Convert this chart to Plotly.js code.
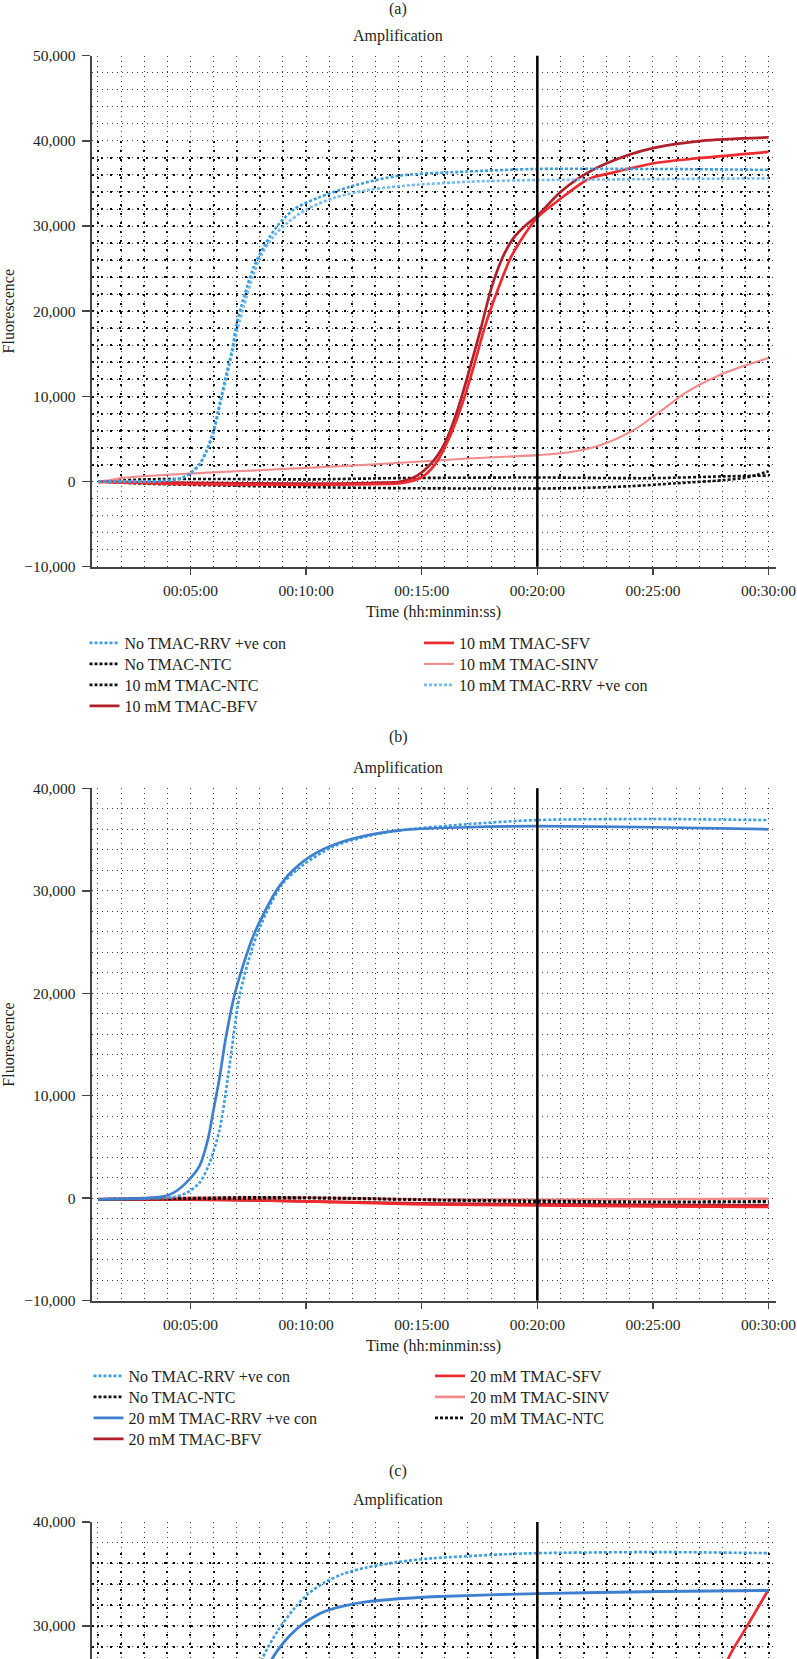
<!DOCTYPE html>
<html><head><meta charset="utf-8">
<script src="https://cdn.plot.ly/plotly-3.0.1.min.js"></script>
<style>
html,body{margin:0;padding:0;background:#fff;overflow:hidden}
#chart{width:797px;height:1659px}
</style></head>
<body><div id="chart"></div>
<script>
// ---------- shared axis labels ----------
const timeTickVals = [5, 10, 15, 20, 25, 30];
const timeTickText = ['00:05:00', '00:10:00', '00:15:00', '00:20:00', '00:25:00', '00:30:00'];
const markerTime = 20;
const panelLabels = ['(a)', '(b)', '(c)'];
const panelTitle = 'Amplification';
const xTitle = 'Time (hh:minmin:ss)';
const yTitle = 'Fluorescence';
const cTickVals = [30000, 40000];       // panel (c) labels visible above the crop
const cVisibleRange = [26800, 40000];  // panel (c) is cut off by the page bottom

// ---------- panel (a) : 10 mM TMAC ----------
const aNoRrvT = [1, 3, 4, 4.6, 5, 5.4, 5.7, 6, 6.2, 6.5, 6.8, 7.0, 7.2, 7.45, 7.75, 8.2, 8.75, 9.5, 10.5, 12, 14, 17, 20, 25, 30];
const aNoRrvF = [0, 0, 100, 400, 1000, 2100, 3700, 6000, 8400, 12000, 15500, 18600, 20600, 22900, 25300, 27700, 30000, 32000, 33300, 34700, 35900, 36400, 36700, 36700, 36600];
const a10RrvT = [1, 3, 4, 4.6, 5, 5.4, 5.7, 6, 6.2, 6.5, 6.8, 7.05, 7.3, 7.7, 8.05, 8.6, 9.2, 10.05, 11.2, 12.6, 14.1, 17, 20, 25, 30];
const a10RrvF = [0, 0, 100, 400, 900, 2000, 3500, 5700, 8000, 11500, 15000, 18000, 20500, 24100, 26500, 28800, 30400, 32000, 33300, 34200, 34700, 35200, 35400, 35500, 35600];
const aNoNtcT = [1, 3, 6, 10, 14, 20, 25, 28, 30];
const aNoNtcF = [0, 250, 300, 250, 400, 470, 400, 600, 700];
const a10NtcT = [1, 3, 6, 10, 14, 20, 22, 24, 26, 28, 29, 29.5, 30];
const a10NtcF = [0, -250, -450, -650, -780, -820, -750, -550, -200, 150, 450, 800, 1200];
const aBfvT = [1, 5, 10, 13, 14.1, 14.8, 15.5, 16.0, 16.5, 17.0, 17.55, 18.0, 18.4, 18.7, 19.0, 19.5, 20.0, 21.0, 22.2, 23.9, 25.1, 27.1, 30];
const aBfvF = [0, -150, -250, -150, 0, 700, 2400, 4500, 8000, 12500, 17900, 22600, 25700, 27400, 28700, 30100, 31200, 34000, 36300, 38300, 39200, 40000, 40400];
const aSfvT = [1, 5, 10, 13, 14.1, 15.0, 15.6, 16.25, 16.8, 17.3, 17.7, 18.3, 18.85, 19.3, 19.6, 20.0, 21.0, 22.2, 23.3, 25.1, 27.1, 30];
const aSfvF = [0, -300, -400, -300, -200, 500, 2100, 5500, 9500, 14000, 17900, 22600, 26300, 28400, 29600, 31000, 33200, 35500, 36300, 37400, 38000, 38700];
const aSinvT = [1, 2, 4, 7, 10, 14.1, 17, 20, 21.3, 22.75, 24.2, 25.6, 26.4, 27.8, 29.3, 30];
const aSinvF = [-200, 400, 800, 1200, 1600, 2200, 2700, 3100, 3400, 4300, 6100, 8800, 10400, 12400, 13900, 14500];

// ---------- panel (b) : 20 mM TMAC ----------
const bNoRrvT = [1, 3, 4.24, 4.81, 5.39, 5.82, 6.26, 6.62, 7.12, 7.7, 8.27, 8.99, 9.86, 11.16, 12.6, 14.04, 17, 20, 25, 30];
const bNoRrvF = [-100, -50, 100, 500, 1500, 3400, 6700, 11800, 19700, 24600, 27800, 30700, 32500, 34300, 35300, 35900, 36500, 36900, 37000, 36900];
const b20RrvT = [1, 3, 3.8, 4.24, 4.81, 5.38, 5.75, 5.97, 6.26, 6.5, 6.9, 7.3, 7.7, 8.13, 8.71, 9.43, 10.44, 11.88, 14.04, 17, 20, 25, 30];
const b20RrvF = [-100, 0, 150, 500, 1500, 3100, 5700, 8300, 11800, 15300, 19800, 22900, 25500, 27600, 30000, 32000, 33700, 35000, 35900, 36200, 36300, 36200, 36000];
const bNoNtcT = [1, 5, 8, 12, 16, 20, 25, 30];
const bNoNtcF = [-100, 0, 100, 0, -200, -350, -400, -350];
const b20NtcT = [1, 5, 10, 15, 20, 25, 30];
const b20NtcF = [-100, -50, 0, -150, -250, -350, -300];
const bBfvT = [1, 5, 10, 15, 20, 25, 30];
const bBfvF = [-150, -150, -300, -500, -600, -650, -700];
const bSfvT = [1, 5, 10, 15, 20, 25, 30];
const bSfvF = [-100, -100, -300, -600, -700, -800, -850];
const bSinvT = [1, 5, 10, 15, 20, 25, 30];
const bSinvF = [-50, 50, 50, -100, -150, -100, -50];

// ---------- panel (c) : upper part only (page cuts it off) ----------
const cNoRrvT = [1, 4, 5, 6, 6.5, 7, 7.5, 8.08, 8.8, 9.5, 10.1, 10.82, 11.6, 12.58, 14, 15.44, 18.7, 20, 25.3, 30];
const cNoRrvF = [0, 0, 600, 5000, 11000, 17500, 22500, 26700, 29600, 31700, 33100, 34200, 35000, 35600, 36150, 36500, 36900, 37000, 37100, 37000];
const cRrvT = [1, 4, 5, 6, 6.5, 7, 7.5, 8, 8.5, 9.07, 9.5, 9.94, 10.4, 10.82, 11.6, 12.58, 14, 15.44, 20, 25.3, 30];
const cRrvF = [0, 0, 500, 4000, 9000, 15000, 20000, 24000, 26700, 28500, 29500, 30300, 30950, 31400, 31900, 32300, 32600, 32800, 33100, 33300, 33400];
const cSfvT = [1, 20, 24, 25, 26, 27, 27.5, 28.23, 29, 30];
const cSfvF = [0, 0, 500, 2000, 6000, 14000, 20000, 26700, 29700, 33500];

// ---------- geometry & styling ----------
const FONT = 'Liberation Serif, Times New Roman, serif';
const TXT = '#231f20';
const W = 797, H = 1659;
const py = p => 1 - p / H;
const px = p => p / W;
const xDom = [px(91.5), px(775.5)];
const xRange = [0.72, 30.3];

const C = {
  noRrv: '#3a9ee0', rrv10: '#74bbee', rrv20: '#3f7fcf', ntc: '#111111',
  bfv: '#b0202a', sfv: '#ee2a2f', sinv: '#f28b8b'
};
const DOT = '3px,2px';

// one legend box per entry so the rows keep the reference spacing
const legendRowsA = [643, 664, 685, 706];
const legendRowsB = [1376, 1397, 1418, 1439];
const legendColsA = [84.5, 419];
const legendColsB = [88.5, 430];
const legends = {};
let nLeg = 0;
function slot(xp, yp) {
  nLeg++;
  const id = nLeg === 1 ? 'legend' : 'legend' + nLeg;
  legends[id] = {
    x: px(xp), y: py(yp), xanchor: 'left', yanchor: 'middle', orientation: 'v',
    bgcolor: 'rgba(0,0,0,0)', borderwidth: 0, tracegroupgap: 0, itemwidth: 30,
    font: {family: FONT, size: 16, color: TXT}
  };
  return id;
}

function tr(t, f, name, color, dash, xa, ya, legend, width) {
  return {
    type: 'scatter', mode: 'lines', x: t, y: f, name: name,
    xaxis: xa, yaxis: ya, legend: legend || undefined,
    showlegend: !!legend,
    line: {color: color, width: width || (dash === 'solid' ? 2.7 : 2.6), dash: dash || 'solid', shape: 'spline', smoothing: 0.8}
  };
}
// empty helper traces that make the darker grid-band subplots exist
function gridHolder(xa, ya) {
  return {type: 'scatter', mode: 'lines', x: [null], y: [null], xaxis: xa, yaxis: ya,
          showlegend: false, hoverinfo: 'skip'};
}

const data = [
  gridHolder('x', 'y'),
  gridHolder('x2', 'y2'),
  // panel (a)
  tr(aNoNtcT, aNoNtcF, 'No TMAC-NTC', C.ntc, DOT, 'x3', 'y3', slot(legendColsA[0], legendRowsA[1])),
  tr(a10NtcT, a10NtcF, '10 mM TMAC-NTC', C.ntc, DOT, 'x3', 'y3', slot(legendColsA[0], legendRowsA[2])),
  tr(aSinvT, aSinvF, '10 mM TMAC-SINV', C.sinv, 'solid', 'x3', 'y3', slot(legendColsA[1], legendRowsA[1]), 2.1),
  tr(aBfvT, aBfvF, '10 mM TMAC-BFV', C.bfv, 'solid', 'x3', 'y3', slot(legendColsA[0], legendRowsA[3])),
  tr(aSfvT, aSfvF, '10 mM TMAC-SFV', C.sfv, 'solid', 'x3', 'y3', slot(legendColsA[1], legendRowsA[0])),
  tr(a10RrvT, a10RrvF, '10 mM TMAC-RRV +ve con', C.rrv10, DOT, 'x3', 'y3', slot(legendColsA[1], legendRowsA[2])),
  tr(aNoRrvT, aNoRrvF, 'No TMAC-RRV +ve con', C.noRrv, DOT, 'x3', 'y3', slot(legendColsA[0], legendRowsA[0])),
  // panel (b)
  tr(bSinvT, bSinvF, '20 mM TMAC-SINV', C.sinv, 'solid', 'x4', 'y4', slot(legendColsB[1], legendRowsB[1])),
  tr(bBfvT, bBfvF, '20 mM TMAC-BFV', C.bfv, 'solid', 'x4', 'y4', slot(legendColsB[0], legendRowsB[3])),
  tr(bSfvT, bSfvF, '20 mM TMAC-SFV', C.sfv, 'solid', 'x4', 'y4', slot(legendColsB[1], legendRowsB[0])),
  tr(bNoNtcT, bNoNtcF, 'No TMAC-NTC', C.ntc, DOT, 'x4', 'y4', slot(legendColsB[0], legendRowsB[1])),
  tr(b20NtcT, b20NtcF, '20 mM TMAC-NTC', C.ntc, DOT, 'x4', 'y4', slot(legendColsB[1], legendRowsB[2])),
  tr(bNoRrvT, bNoRrvF, 'No TMAC-RRV +ve con', C.noRrv, DOT, 'x4', 'y4', slot(legendColsB[0], legendRowsB[0])),
  tr(b20RrvT, b20RrvF, '20 mM TMAC-RRV +ve con', C.rrv20, 'solid', 'x4', 'y4', slot(legendColsB[0], legendRowsB[2])),
  // panel (c)
  tr(cSfvT, cSfvF, 'TMAC-SFV', C.sfv, 'solid', 'x5', 'y5', null),
  tr(cRrvT, cRrvF, 'TMAC-RRV +ve con', C.rrv20, 'solid', 'x5', 'y5', null, 2.9),
  tr(cNoRrvT, cNoRrvF, 'No TMAC-RRV +ve con', C.noRrv, DOT, 'x5', 'y5', null)
];

const LIGHT = {gridcolor: '#3a3a3a', griddash: '1px,4px', gridwidth: 1};
const BOLD = {gridcolor: '#000000', griddash: '2px,7px', gridwidth: 2};

function xAxis(anchor, showLabels) {
  return Object.assign({
    domain: xDom, range: xRange, anchor: anchor,
    tickmode: 'array', tickvals: timeTickVals, ticktext: timeTickText,
    ticks: showLabels ? 'outside' : '', ticklen: 6, tickwidth: 1.5, tickcolor: '#444', ticklabelstandoff: 3,
    showticklabels: showLabels,
    showline: showLabels, linecolor: '#444', linewidth: 1.8, zeroline: false,
    showgrid: true,
    minor: Object.assign({tickmode: 'linear', tick0: 0, dtick: 1, showgrid: true, ticks: ''}, LIGHT),
    tickfont: {family: FONT, size: 15.5, color: TXT},
    title: {text: showLabels ? xTitle : '', font: {family: FONT, size: 16, color: TXT}, standoff: 8},
    fixedrange: true
  }, LIGHT);
}
function yAxis(anchor, dom, range, withTitle, tickvals) {
  const ax = Object.assign({
    domain: dom, range: range, anchor: anchor,
    tick0: 0, dtick: 10000, tickformat: ',d',
    ticks: 'outside', ticklen: 8, tickwidth: 1.5, tickcolor: '#444', ticklabelstandoff: 3,
    showline: true, linecolor: '#444', linewidth: 1.8, zeroline: false,
    showgrid: true,
    minor: Object.assign({tick0: 0, dtick: 2000, showgrid: true, ticks: ''}, LIGHT),
    tickfont: {family: FONT, size: 15.5, color: TXT},
    title: {text: withTitle ? yTitle : '', font: {family: FONT, size: 16, color: TXT}, standoff: 9},
    fixedrange: true
  }, LIGHT);
  if (tickvals) { ax.tickmode = 'array'; ax.tickvals = tickvals; }
  return ax;
}
// darker grid band (as in the reference) drawn by an empty underlay subplot
function boldX(anchor) {
  return Object.assign({domain: xDom, range: xRange, anchor: anchor, tickmode: 'linear', tick0: 0, dtick: 1,
    showgrid: true, showline: false, ticks: '', showticklabels: false, zeroline: false, fixedrange: true}, BOLD);
}
function boldY(anchor, dom, range) {
  return Object.assign({domain: dom, range: range, anchor: anchor, tickmode: 'linear', tick0: 0, dtick: 2000,
    showgrid: true, showline: false, ticks: '', showticklabels: false, zeroline: false, fixedrange: true}, BOLD);
}

function vline(xa, ya) {
  return {type: 'line', xref: xa, yref: ya + ' domain', x0: markerTime, x1: markerTime, y0: 0, y1: 1,
          line: {color: '#000', width: 2.5}, layer: 'above'};
}
function ann(text, yp) {
  return {text: text, xref: 'paper', yref: 'paper', x: px(398), y: py(yp), xanchor: 'center', yanchor: 'middle',
          showarrow: false, font: {family: FONT, size: 16, color: TXT}};
}

const layout = Object.assign({
  width: W, height: H,
  margin: {l: 0, r: 0, t: 0, b: 0},
  paper_bgcolor: '#fff', plot_bgcolor: 'rgba(0,0,0,0)',
  font: {family: FONT, color: TXT, size: 16},
  hovermode: false,
  // underlay grids
  xaxis: boldX('y'),
  yaxis: boldY('x', [py(481.7), py(141)], [0, 40000]),
  xaxis2: boldX('y2'),
  yaxis2: boldY('x2', [0, py(1553)], [cVisibleRange[0], 37000]),
  // panel (a)
  xaxis3: xAxis('y3', true),
  yaxis3: yAxis('x3', [py(566.7), py(55.7)], [-10000, 50000], true),
  // panel (b)
  xaxis4: xAxis('y4', true),
  yaxis4: yAxis('x4', [py(1300.7), py(788.3)], [-10000, 40000], true),
  // panel (c)
  xaxis5: xAxis('y5', false),
  yaxis5: yAxis('x5', [0, py(1522)], cVisibleRange, false, cTickVals),
  shapes: [vline('x3', 'y3'), vline('x4', 'y4'), vline('x5', 'y5')],
  annotations: [
    ann(panelLabels[0], 9), ann(panelTitle, 36),
    ann(panelLabels[1], 737), ann(panelTitle, 768),
    ann(panelLabels[2], 1471), ann(panelTitle, 1500)
  ]
}, legends);

Plotly.newPlot('chart', data, layout, {staticPlot: true, displayModeBar: false});
</script></body></html>
